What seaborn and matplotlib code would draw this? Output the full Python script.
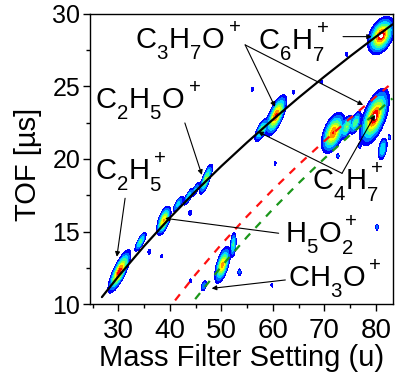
import numpy as np
import matplotlib
matplotlib.use("Agg")
import matplotlib.pyplot as plt
from matplotlib.colors import ListedColormap, BoundaryNorm
import seaborn as sns

# --- calibration curve and fragment-loss curves (mass setting u, TOF in µs) ---
fit_mass = [26.8, 30, 35, 40, 45, 50, 55, 60, 65, 70, 75, 80, 83.2]
fit_tof = [10.48, 11.91, 14.00, 15.95, 17.78, 19.51, 21.15, 22.72, 24.23, 25.68, 27.08, 28.43, 29.27]

red_mass = [41.0, 45, 50, 55, 60, 65, 70, 75, 82.5]
red_tof = [10.25, 12.05, 14.12, 16.06, 17.89, 19.61, 21.24, 22.81, 25.05]

green_mass = [44.9, 50, 55, 60, 65, 70, 75, 83.2]
green_tof = [10.34, 12.60, 14.64, 16.55, 18.34, 20.04, 21.66, 24.17]

# --- intensity peaks in the TOF map: centre, height, widths, correlation ---
peak_mass = [30.2, 34.3, 38.8, 41.6, 43.6, 45.0, 47.0, 57.8, 60.6, 71.7, 74.3, 76.0,
             79.7, 81.0, 50.2, 52.3, 46.6, 81.3, 80.2, 44.0, 64.0, 72.6, 82.6, 56.0,
             36.0, 74.3, 60.4, 69.5, 59.8, 38.4, 43.9, 53.5, 76.8]
peak_tof = [12.25, 14.3, 15.75, 16.9, 17.4, 17.9, 18.6, 22.0, 23.0, 21.8, 22.2, 22.5,
            22.9, 28.5, 12.7, 14.1, 11.25, 20.7, 15.3, 11.6, 24.6, 20.2, 21.5, 24.8,
            13.6, 27.2, 19.7, 25.3, 11.3, 13.3, 16.3, 12.2, 20.9]
peak_amp = [0.93, 0.32, 0.72, 0.2, 0.25, 0.18, 0.45, 0.38, 0.88, 0.86, 0.42, 0.36,
            1.0, 1.0, 0.75, 0.3, 0.14, 0.28, 0.12, 0.08, 0.08, 0.09, 0.1, 0.08,
            0.08, 0.08, 0.07, 0.07, 0.07, 0.07, 0.08, 0.1, 0.08]
peak_sx = [0.85, 0.5, 0.55, 0.5, 0.45, 0.4, 0.55, 0.6, 0.8, 0.9, 0.5, 0.5,
           1.1, 1.0, 0.6, 0.25, 0.3, 0.4, 0.15, 0.15, 0.15, 0.15, 0.15, 0.15,
           0.2, 0.15, 0.15, 0.15, 0.15, 0.15, 0.2, 0.2, 0.15]
peak_sy = [0.57, 0.3, 0.4, 0.28, 0.28, 0.25, 0.45, 0.35, 0.55, 0.55, 0.35, 0.35,
           0.75, 0.5, 0.5, 0.4, 0.2, 0.35, 0.12, 0.1, 0.1, 0.1, 0.12, 0.1,
           0.12, 0.1, 0.1, 0.1, 0.1, 0.1, 0.12, 0.15, 0.1]
peak_rho = [0.8, 0.8, 0.6, 0.8, 0.8, 0.8, 0.8, 0.7, 0.7, 0.5, 0.6, 0.6,
            0.6, 0.4, 0.6, 0.3, 0.5, 0.4, 0.0, 0.0, 0.0, 0.0, 0.0, 0.0,
            0.0, 0.0, 0.0, 0.0, 0.0, 0.0, 0.0, 0.0, 0.0]

# --- labels: text, text position, arrow tips, arrow tail ---
labels = [
    (r"$C_3H_7O^+$", (33.2, 27.52), [(60.4, 23.59), (77.5, 23.72)], (54.6, 27.86)),
    (r"$C_6H_7^+$", (57.1, 27.52), [(79.2, 28.43)], (73.6, 28.43)),
    (r"$C_2H_5O^+$", (25.5, 23.38), [(46.2, 18.9)], (42.9, 22.48)),
    (r"$C_2H_5^+$", (25.5, 18.55), [(29.7, 13.26)], (31.3, 17.29)),
    (r"$H_5O_2^+$", (62.4, 14.2), [(39.06, 15.91)], (61.1, 14.88)),
    (r"$CH_3O^+$", (62.9, 11.1), [(48.1, 11.08)], (62.4, 11.66)),
    (r"$C_4H_7^+$", (67.6, 17.86), [(57.1, 21.88), (79.8, 23.03)], (73.4, 19.01)),
]

sns.set_theme(style="ticks")
plt.rcParams["font.family"] = ["Liberation Sans", "DejaVu Sans"]
plt.rcParams["mathtext.fontset"] = "custom"
plt.rcParams["mathtext.rm"] = "Liberation Sans"
plt.rcParams["mathtext.it"] = "Liberation Sans"
plt.rcParams["mathtext.default"] = "regular"
plt.rcParams["text.color"] = "black"
plt.rcParams["axes.labelcolor"] = "black"
plt.rcParams["xtick.color"] = "black"
plt.rcParams["ytick.color"] = "black"

# chemistry-style script placement: subscripts dropped below the baseline,
# charge signs raised
try:
    import matplotlib._mathtext as _mt

    class _ChemConstants(_mt.FontConstantsBase):
        sub1 = 0.65
        sub2 = 0.7
        sup1 = 0.95

    _mt._font_constant_mapping["Liberation Sans"] = _ChemConstants
except Exception:
    pass

fig = plt.figure(figsize=(3.95, 3.74), dpi=100)
ax = fig.add_axes([0.228, 0.187, 0.767, 0.776])

# intensity map built from the peak table
gx = np.linspace(24.5, 83.5, 500)
gy = np.linspace(10, 30, 400)
X, Y = np.meshgrid(gx, gy)
Z = np.zeros_like(X)
for m, t, a, sx, sy, r in zip(peak_mass, peak_tof, peak_amp, peak_sx, peak_sy, peak_rho):
    u = (X - m) / sx
    v = (Y - t) / sy
    Z += a * np.exp(-(u * u - 2 * r * u * v + v * v) / (2 * (1 - r * r)))

levels = [0.03, 0.08, 0.16, 0.28, 0.42, 0.56, 0.7, 0.85, 0.97, 5.0]
band_colors = ["#0000ff", "#0070ff", "#00d8ff", "#40ff90", "#a8ff30",
               "#ffff00", "#ff9000", "#ff0000", "#ffffff"]
cmap = ListedColormap(band_colors)
norm = BoundaryNorm(levels, cmap.N)
ax.contourf(X, Y, Z, levels=levels, cmap=cmap, norm=norm, zorder=1)

sns.lineplot(x=red_mass, y=red_tof, ax=ax, color="#ff1010", lw=1.6,
             linestyle=(0, (3.5, 3.5)), zorder=3)
sns.lineplot(x=green_mass, y=green_tof, ax=ax, color="#1a961a", lw=1.6,
             linestyle=(0, (3.5, 3.5)), zorder=3)
sns.lineplot(x=fit_mass, y=fit_tof, ax=ax, color="black", lw=1.6, zorder=4)

for text, pos, tips, tail in labels:
    ax.text(pos[0], pos[1], text, fontsize=21, color="black",
            ha="left", va="baseline", zorder=6)
    for tip in tips:
        ax.annotate("", xy=tip, xytext=tail,
                    arrowprops=dict(arrowstyle="-|>", color="black", lw=0.8,
                                    mutation_scale=7, shrinkA=0, shrinkB=0),
                    zorder=5)

ax.set_xlim(24.5, 83.3)
ax.set_ylim(10, 30)
ax.set_xticks([30, 40, 50, 60, 70, 80])
ax.set_xticks([25, 35, 45, 55, 65, 75], minor=True)
ax.set_yticks([10, 15, 20, 25, 30])
ax.set_yticks([12.5, 17.5, 22.5, 27.5], minor=True)
ax.tick_params(axis="both", which="major", direction="out", length=5, width=1,
               color="black", labelcolor="black", top=False, right=False)
ax.tick_params(axis="x", which="major", labelsize=20, pad=5)
ax.tick_params(axis="y", which="major", labelsize=18, pad=2)
ax.tick_params(axis="both", which="minor", direction="out", length=3, width=1,
               color="black", top=False, right=False)
for s in ax.spines.values():
    s.set_visible(True)
    s.set_color("black")
    s.set_linewidth(1.0)

ax.set_xlabel("Mass Filter Setting (u)", fontsize=21, color="black", labelpad=0)
ax.set_ylabel("TOF [µs]", fontsize=21, color="black", labelpad=2)
ax.yaxis.set_label_coords(-0.158, 0.48)
ax.set_facecolor("white")
fig.patch.set_facecolor("white")

fig.savefig("out.png", dpi=100)
